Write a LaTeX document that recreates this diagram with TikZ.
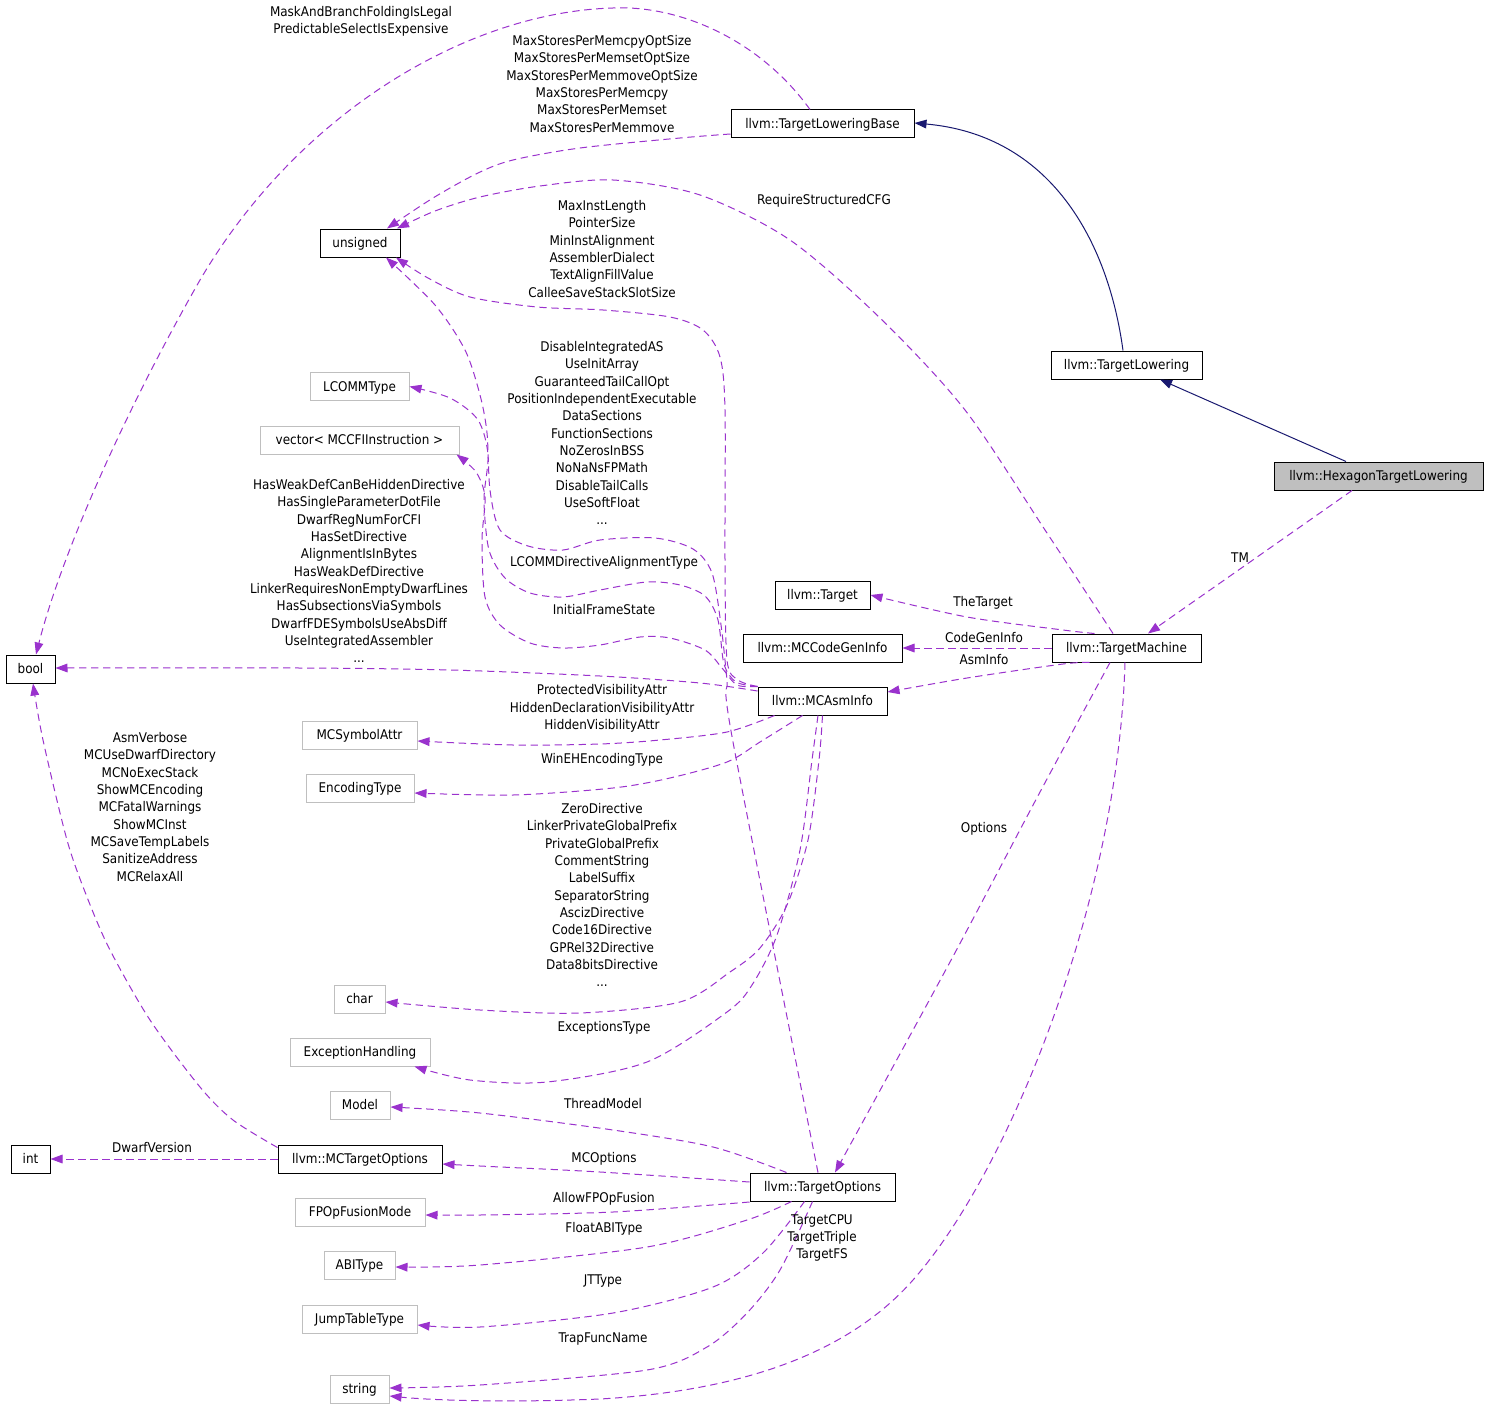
\documentclass[tikz,border=0pt]{standalone}
\usepackage{fontspec}
\setmainfont{DejaVu Sans}[FakeStretch=0.9]
\usetikzlibrary{arrows.meta,calc}
\definecolor{edgepurple}{HTML}{9A32CD}
\definecolor{navyedge}{HTML}{191970}
\definecolor{greyborder}{HTML}{BFBFBF}
\definecolor{hexfill}{HTML}{BFBFBF}
\newcommand\dxfont{\fontsize{10pt}{13pt}\selectfont}
\begin{document}
\begin{tikzpicture}[x=0.75pt,y=-0.75pt,
  cls/.style={draw=black, line width=0.75pt, fill=white, inner sep=0pt,
    minimum height=21pt, text height=7.3pt, text depth=0pt, font=\dxfont},
  gcls/.style={cls, draw=greyborder},
  bw/.style={minimum width=#1*0.75pt},
  lbl/.style={inner sep=0pt, align=center, font=\dxfont},
  lbl1/.style={inner sep=0pt, text height=7.3pt, text depth=0pt, font=\dxfont},
  mem/.style={draw=edgepurple, line width=0.75pt, dash pattern=on 5.5pt off 3.5pt,
    -{Triangle[length=9pt,width=6.5pt,fill=edgepurple]}},
  inh/.style={draw=navyedge, line width=0.75pt,
    -{Triangle[length=9pt,width=6.5pt,fill=navyedge]}}
]
\fill[white] (0,0) rectangle (1488,1409);
\useasboundingbox (0,0) rectangle (1488,1409);

% ---------- nodes ----------
\node[cls, fill=hexfill, bw=209] (hex) at (1378.5,476) {llvm::HexagonTargetLowering};
\node[cls, bw=151] (tl) at (1126.5,365) {llvm::TargetLowering};
\node[cls, bw=183] (tlb) at (822.5,124) {llvm::TargetLoweringBase};
\node[cls, bw=80] (unsigned) at (360,243) {unsigned};
\node[cls, bw=49] (bool) at (30.5,669) {bool};
\node[gcls, bw=99] (lcomm) at (359.5,386.5) {LCOMMType};
\node[gcls, bw=199] (vector) at (359.5,440) {vector< MCCFIInstruction >};
\node[cls, bw=95] (target) at (822.5,595) {llvm::Target};
\node[cls, bw=159] (mccgi) at (822.5,648) {llvm::MCCodeGenInfo};
\node[cls, bw=149] (tm) at (1126.5,648) {llvm::TargetMachine};
\node[cls, bw=129] (mcasm) at (822.5,701) {llvm::MCAsmInfo};
\node[gcls, bw=115] (mcsym) at (359.5,735) {MCSymbolAttr};
\node[gcls, bw=108] (enc) at (360,788) {EncodingType};
\node[gcls, bw=51] (char) at (359.5,999) {char};
\node[gcls, bw=140] (exc) at (360,1052) {ExceptionHandling};
\node[gcls, bw=60] (model) at (360,1105) {Model};
\node[cls, bw=39] (int) at (30.5,1159) {int};
\node[cls, bw=164] (mcto) at (360,1159) {llvm::MCTargetOptions};
\node[gcls, bw=130] (fpop) at (360,1212) {FPOpFusionMode};
\node[gcls, bw=71] (abi) at (359.5,1265) {ABIType};
\node[gcls, bw=115] (jtt) at (359.5,1319) {JumpTableType};
\node[gcls, bw=59] (string) at (359.5,1389) {string};
\node[cls, bw=145] (to) at (822.5,1187) {llvm::TargetOptions};

% ---------- anchor points on nodes ----------
\coordinate (tlbTop) at ($(tlb.north)+(-12.5,0)$);
\coordinate (tlbLeft) at ($(tlb.west)+(0,10)$);
\coordinate (tlbRight) at ($(tlb.east)+(0,-1)$);
\coordinate (boolTop) at ($(bool.north)+(5.5,0)$);
\coordinate (boolRight) at ($(bool.east)+(0,-1)$);
\coordinate (boolBot) at ($(bool.south)+(2.5,0)$);
\coordinate (unsTopA) at ($(unsigned.north)+(27,0)$);
\coordinate (unsTopB) at ($(unsigned.north)+(37,0)$);
\coordinate (unsBotA) at ($(unsigned.south)+(26,0)$);
\coordinate (unsBotB) at ($(unsigned.south)+(36,0)$);
\coordinate (tmTop) at ($(tm.north)+(-13.5,0)$);
\coordinate (tmTopL) at ($(tm.north west)+(43,0)$);
\coordinate (tmTopR) at ($(tm.north)+(21.5,0)$);
\coordinate (tmBotA) at ($(tm.south west)+(38,0)$);
\coordinate (tmBotB) at ($(tm.south)+(-16.5,0)$);
\coordinate (tmBotC) at ($(tm.south)+(-1.5,0)$);
\coordinate (asmNW) at (mcasm.north west);
\coordinate (asmW) at ($(mcasm.west)+(0,-10)$);
\coordinate (asmBotA) at ($(mcasm.south west)+(17,0)$);
\coordinate (asmBotB) at ($(mcasm.south west)+(45,0)$);
\coordinate (asmBotC) at (mcasm.south);
\coordinate (asmBotD) at ($(mcasm.south)+(-4.5,0)$);
\coordinate (asmRight) at ($(mcasm.east)+(0,-9)$);
\coordinate (toTop) at ($(to.north)+(-4.5,0)$);
\coordinate (toTopR) at ($(to.north)+(12.5,0)$);
\coordinate (toTopL) at ($(to.north west)+(37,0)$);
\coordinate (toLeftA) at ($(to.west)+(0,-5)$);
\coordinate (toLeftB) at ($(to.west)+(0,15)$);
\coordinate (toBotA) at ($(to.south west)+(42,0)$);
\coordinate (toBotB) at ($(to.south west)+(55,0)$);
\coordinate (toBotC) at ($(to.south west)+(63,0)$);
\coordinate (lcommR) at (lcomm.east);
\coordinate (vecSE) at ($(vector.south east)+(-3,0)$);
\coordinate (symR) at ($(mcsym.east)+(0,6)$);
\coordinate (encR) at ($(enc.east)+(0,5)$);
\coordinate (charR) at ($(char.east)+(0,3)$);
\coordinate (excSE) at ($(exc.south east)+(-16,0)$);
\coordinate (modelR) at ($(model.east)+(0,2)$);
\coordinate (mctoR) at ($(mcto.east)+(0,5)$);
\coordinate (mctoNW) at ($(mcto.north west)+(0,3)$);
\coordinate (fpopR) at ($(fpop.east)+(0,3)$);
\coordinate (abiR) at ($(abi.east)+(0,2)$);
\coordinate (jttR) at ($(jtt.east)+(0,6)$);
\coordinate (strRA) at ($(string.east)+(0,-1)$);
\coordinate (strRB) at ($(string.east)+(0,7)$);
\coordinate (hexBot) at ($(hex.south)+(-26.5,0)$);
\coordinate (hexTop) at ($(hex.north)+(-32.5,0)$);
\coordinate (tlBot) at ($(tl.south)+(33.5,0)$);
\coordinate (tlTop) at ($(tl.north)+(-3.5,0)$);

% ---------- inheritance ----------
\draw[inh] (hexTop) -- (tlBot);
\draw[inh] (tlTop) .. controls (1108,240) and (1050,135) .. (tlbRight);

% ---------- member edges ----------
\draw[mem] (tlbTop) .. controls (760,40) and (680,5) .. (613,8)
  .. controls (470,12) and (300,110) .. (200,280)
  .. controls (120,420) and (60,560) .. (boolTop);
\draw[mem] plot[smooth] coordinates {(tlbLeft) (680,138) (580,148) (513,160) (478,173) (433,198) (unsTopA)};
\draw[mem] plot[smooth] coordinates {(tmTop) (1045,530) (965,410) (880,318) (790,240) (700,195) (613,180) (540,186) (480,197) (435,211) (unsTopB)};
\draw[mem] plot[smooth] coordinates {(asmNW) (738,680) (727,660) (725,560) (725,410) (720,357) (703,330) (670,317) (603,310) (537,307) (470,297) (428,278) (unsBotB)};
\draw[mem] plot[smooth] coordinates {(toTop) (733,742) (727,680) (721,625) (712,573) (693,549) (655,538) (600,540) (563,550) (528,546) (500,530) (490,490) (487,433) (480,395) (465,350) (435,305) (unsBotA)};
\draw[mem] plot[smooth] coordinates {(asmNW) (736,682) (724,664) (718,620) (705,596) (680,585) (647,582) (600,590) (563,597) (530,593) (505,578) (489,550) (484,500) (488,455) (478,420) (450,398) (lcommR)};
\draw[mem] plot[smooth] coordinates {(asmNW) (737,685) (722,668) (705,650) (670,638) (640,637) (600,645) (563,648) (530,643) (500,625) (485,597) (482,540) (485,497) (476,472) (vecSE)};
\draw[mem] plot[smooth] coordinates {(asmW) (700,683) (600,676) (450,670) (300,668) (boolRight)};
\draw[mem] plot[smooth] coordinates {(asmBotA) (727,732) (660,740) (600,744) (513,745) (symR)};
\draw[mem] plot[smooth] coordinates {(asmBotB) (760,742) (727,762) (670,778) (613,788) (513,795) (encR)};
\draw[mem] plot[smooth] coordinates {(asmBotC) (819,760) (808,840) (787,905) (760,948) (730,972) (680,1002) (580,1013) (480,1010) (charR)};
\draw[mem] plot[smooth] coordinates {(asmBotD) (812,760) (800,850) (777,935) (752,985) (727,1012) (647,1062) (547,1082) (470,1080) (excSE)};
\draw[mem] plot[smooth] coordinates {(toTopL) (713,1147) (613,1130) (480,1113) (modelR)};
\draw[mem] plot[smooth] coordinates {(toLeftA) (600,1172) (480,1166) (mctoR)};
\draw[mem] plot[smooth] coordinates {(toLeftB) (613,1212) (480,1215) (fpopR)};
\draw[mem] plot[smooth] coordinates {(toBotA) (747,1220) (647,1247) (480,1265) (abiR)};
\draw[mem] plot[smooth] coordinates {(toBotB) (763,1253) (713,1287) (613,1313) (480,1327) (jttR)};
\draw[mem] plot[smooth] coordinates {(toBotC) (780,1270) (747,1313) (707,1347) (647,1370) (480,1385) (strRA)};
\draw[mem] (tmBotC) .. controls (1118,900) and (1010,1170) .. (913,1280)
  .. controls (840,1363) and (720,1392) .. (600,1399)
  .. controls (500,1403) and (430,1400) .. (strRB);
\draw[mem] plot[smooth] coordinates {(tmBotB) (1040,792) (950,962) (toTopR)};
\draw[mem] plot[smooth] coordinates {(tmTopL) (1063,630) (967,617) (target.east)} ;
\draw[mem] (tm.west) -- (mccgi.east);
\draw[mem] plot[smooth] coordinates {(tmBotA) (1063,664) (967,678) (asmRight)};
\draw[mem] (hexBot) -- (tmTopR);
\draw[mem] plot[smooth] coordinates {(mctoNW) (233,1120) (200,1087) (150,1020) (110,950) (87,897) (67,840) (43,740) (boolBot)};
\draw[mem] (mcto.west) -- (int.east);

% ---------- labels ----------
\node[lbl] (l1) at (361,21) {MaskAndBranchFoldingIsLegal\\PredictableSelectIsExpensive};
\node[lbl] (l2) at (602,84) {MaxStoresPerMemcpyOptSize\\MaxStoresPerMemsetOptSize\\MaxStoresPerMemmoveOptSize\\MaxStoresPerMemcpy\\MaxStoresPerMemset\\MaxStoresPerMemmove};
\node[lbl1] (l3) at (824,200) {RequireStructuredCFG};
\node[lbl] (l4) at (602,249) {MaxInstLength\\PointerSize\\MinInstAlignment\\AssemblerDialect\\TextAlignFillValue\\CalleeSaveStackSlotSize};
\node[lbl] (l5) at (602,433) {DisableIntegratedAS\\UseInitArray\\GuaranteedTailCallOpt\\PositionIndependentExecutable\\DataSections\\FunctionSections\\NoZerosInBSS\\NoNaNsFPMath\\DisableTailCalls\\UseSoftFloat\\...};
\node[lbl1] (l6) at (604,562) {LCOMMDirectiveAlignmentType};
\node[lbl1] (l7) at (604,610) {InitialFrameState};
\node[lbl] (l8) at (359,571) {HasWeakDefCanBeHiddenDirective\\HasSingleParameterDotFile\\DwarfRegNumForCFI\\HasSetDirective\\AlignmentIsInBytes\\HasWeakDefDirective\\LinkerRequiresNonEmptyDwarfLines\\HasSubsectionsViaSymbols\\DwarfFDESymbolsUseAbsDiff\\UseIntegratedAssembler\\...};
\node[lbl1] (l9) at (983,602) {TheTarget};
\node[lbl1] (l10) at (984,638) {CodeGenInfo};
\node[lbl1] (l11) at (984,660) {AsmInfo};
\node[lbl1] (l12) at (1240,558) {TM};
\node[lbl] (l13) at (602,708.5) {ProtectedVisibilityAttr\\HiddenDeclarationVisibilityAttr\\HiddenVisibilityAttr};
\node[lbl1] (l14) at (602,759) {WinEHEncodingType};
\node[lbl] (l15) at (150,807) {AsmVerbose\\MCUseDwarfDirectory\\MCNoExecStack\\ShowMCEncoding\\MCFatalWarnings\\ShowMCInst\\MCSaveTempLabels\\SanitizeAddress\\MCRelaxAll};
\node[lbl1] (l16) at (984,828) {Options};
\node[lbl] (l17) at (602,895) {ZeroDirective\\LinkerPrivateGlobalPrefix\\PrivateGlobalPrefix\\CommentString\\LabelSuffix\\SeparatorString\\AscizDirective\\Code16Directive\\GPRel32Directive\\Data8bitsDirective\\...};
\node[lbl1] (l18) at (604,1027) {ExceptionsType};
\node[lbl1] (l19) at (603,1104) {ThreadModel};
\node[lbl1] (l20) at (152,1148) {DwarfVersion};
\node[lbl1] (l21) at (604,1158) {MCOptions};
\node[lbl1] (l22) at (604,1198) {AllowFPOpFusion};
\node[lbl1] (l23) at (604,1228) {FloatABIType};
\node[lbl] (l24) at (822,1238) {TargetCPU\\TargetTriple\\TargetFS};
\node[lbl1] (l25) at (603,1280) {JTType};
\node[lbl1] (l26) at (603,1338) {TrapFuncName};
\end{tikzpicture}
\end{document}
